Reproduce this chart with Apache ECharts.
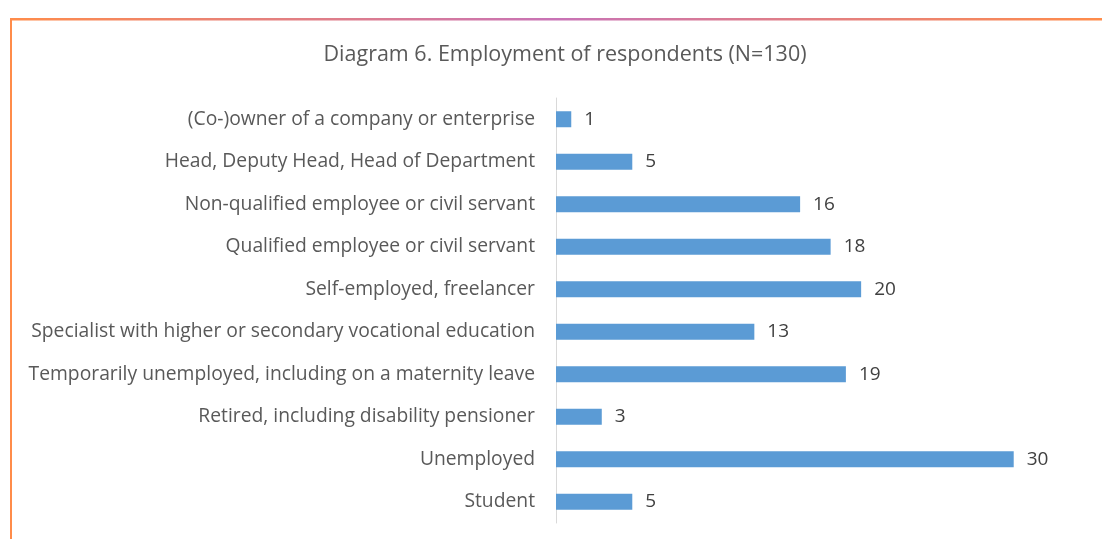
<!DOCTYPE html>
<html>
<head>
<meta charset="utf-8">
<script src="https://cdn.jsdelivr.net/npm/echarts@6/dist/echarts.min.js"></script>
<style>
  html, body { margin: 0; padding: 0; background: #ffffff; }
  #chart { width: 1102px; height: 539px; }
</style>
</head>
<body>
<div id="chart"></div>
<script>
// Employment categories, listed top to bottom
const categories = [
  '(Co-)owner of a company or enterprise',
  'Head, Deputy Head, Head of Department',
  'Non-qualified employee or civil servant',
  'Qualified employee or civil servant',
  'Self-employed, freelancer',
  'Specialist with higher or secondary vocational education',
  'Temporarily unemployed, including on a maternity leave',
  'Retired, including disability pensioner',
  'Unemployed',
  'Student'
];
// Number of respondents per category
const respondents = [1, 5, 16, 18, 20, 13, 19, 3, 30, 5];

const titleText = 'Diagram 6. Employment of respondents (N=130)';
const FONT = '"Open Sans", sans-serif';

const chart = echarts.init(document.getElementById('chart'));

const frameGradient = new echarts.graphic.LinearGradient(0, 0, 1, 0, [
  { offset: 0, color: '#ff8c4a' },
  { offset: 0.5, color: '#c873b6' },
  { offset: 1, color: '#ff8c4a' }
]);

chart.setOption({
  backgroundColor: '#ffffff',
  animation: false,
  title: {
    text: titleText,
    left: 560,
    textAlign: 'center',
    top: 39,
    textStyle: { fontFamily: FONT, fontSize: 21.5, fontWeight: 'normal', color: '#595959' }
  },
  graphic: [
    // decorative frame: gradient top rule and orange left rule
    { type: 'rect', shape: { x: 10, y: 18, width: 1092, height: 2.5 }, style: { fill: frameGradient }, silent: true },
    { type: 'rect', shape: { x: 10, y: 18, width: 2, height: 521 }, style: { fill: '#ff8c4a' }, silent: true }
  ],
  grid: { left: 556, top: 98, width: 534, height: 425, containLabel: false },
  xAxis: {
    type: 'value',
    min: 0,
    max: 35,
    show: false
  },
  yAxis: {
    type: 'category',
    data: categories,
    inverse: true,
    axisLine: { show: true, lineStyle: { color: '#d9d9d9', width: 1 } },
    axisTick: { show: false },
    axisLabel: { fontFamily: FONT, fontSize: 19.3, color: '#595959', margin: 21 }
  },
  series: [{
    type: 'bar',
    data: respondents,
    barWidth: 16,
    itemStyle: { color: '#5b9bd5' },
    label: {
      show: true,
      position: 'right',
      distance: 13,
      fontFamily: FONT,
      fontSize: 19,
      color: '#404040'
    }
  }]
});
</script>
</body>
</html>
